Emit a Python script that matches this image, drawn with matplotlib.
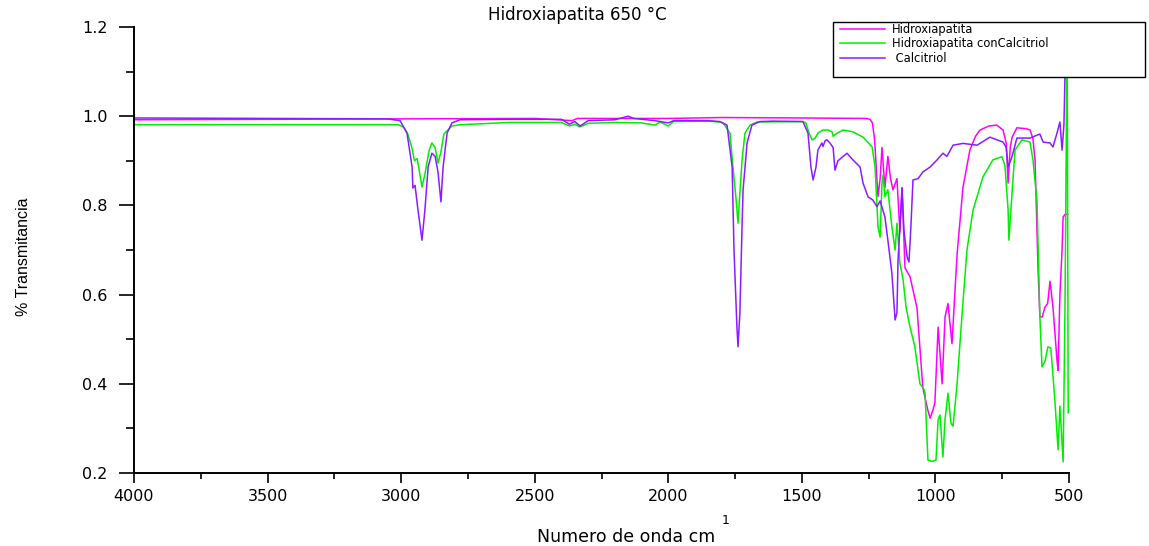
import matplotlib
matplotlib.use("Agg")
import matplotlib.pyplot as plt
from matplotlib.patches import Rectangle

# ---- data (wavenumber cm-1, transmittance) ----
hidroxiapatita = [
    (4000, 0.992), (3500, 0.993), (3000, 0.994), (2500, 0.995), (2360, 0.990),
    (2340, 0.995), (2000, 0.995), (1800, 0.997), (1500, 0.996), (1260, 0.995),
    (1245, 0.993), (1236, 0.985), (1228, 0.950), (1215, 0.820), (1207, 0.860),
    (1200, 0.930), (1189, 0.840), (1178, 0.910), (1168, 0.860), (1159, 0.835),
    (1144, 0.860), (1133, 0.740), (1125, 0.840), (1114, 0.660), (1095, 0.640),
    (1069, 0.570), (1047, 0.390), (1028, 0.340), (1020, 0.323), (1010, 0.340),
    (1002, 0.357), (990, 0.527), (975, 0.400), (964, 0.550), (953, 0.580),
    (938, 0.490), (919, 0.690), (897, 0.840), (871, 0.924), (850, 0.955),
    (833, 0.969), (800, 0.978), (770, 0.980), (747, 0.969), (735, 0.940),
    (728, 0.850), (720, 0.930), (713, 0.953), (695, 0.974), (660, 0.972),
    (646, 0.969), (635, 0.950), (627, 0.900), (616, 0.660), (609, 0.550),
    (600, 0.550), (590, 0.572), (580, 0.580), (571, 0.630), (560, 0.572),
    (545, 0.453), (541, 0.430), (534, 0.600), (526, 0.700), (522, 0.774),
    (515, 0.780), (505, 0.780),
]

hidroxiapatita_calcitriol = [
    (4000, 0.981), (3500, 0.981), (3010, 0.981), (2990, 0.975), (2975, 0.960),
    (2960, 0.930), (2950, 0.900), (2940, 0.905), (2930, 0.870), (2922, 0.841),
    (2911, 0.870), (2895, 0.924), (2885, 0.940), (2873, 0.930), (2862, 0.895),
    (2851, 0.920), (2840, 0.960), (2810, 0.978), (2780, 0.981), (2700, 0.983),
    (2600, 0.986), (2400, 0.986), (2370, 0.978), (2350, 0.982), (2330, 0.976),
    (2300, 0.984), (2200, 0.986), (2100, 0.985), (2050, 0.980), (2030, 0.987),
    (2000, 0.978), (1980, 0.988), (1850, 0.989), (1810, 0.987), (1795, 0.985),
    (1769, 0.962), (1758, 0.886), (1746, 0.812), (1739, 0.760), (1735, 0.800),
    (1724, 0.900), (1713, 0.962), (1694, 0.980), (1668, 0.987), (1500, 0.988),
    (1485, 0.985), (1473, 0.962), (1462, 0.947), (1451, 0.950), (1440, 0.962),
    (1421, 0.969), (1402, 0.969), (1387, 0.965), (1383, 0.955), (1368, 0.962),
    (1346, 0.969), (1309, 0.965), (1271, 0.953), (1237, 0.931), (1226, 0.886),
    (1215, 0.752), (1207, 0.729), (1200, 0.850), (1196, 0.868), (1189, 0.820),
    (1178, 0.835), (1163, 0.752), (1151, 0.700), (1144, 0.760), (1133, 0.671),
    (1121, 0.633), (1110, 0.572), (1095, 0.527), (1077, 0.483), (1058, 0.400),
    (1045, 0.390), (1039, 0.380), (1028, 0.229), (1013, 0.226), (998, 0.229),
    (990, 0.319), (983, 0.330), (972, 0.236), (964, 0.320), (953, 0.379),
    (942, 0.312), (934, 0.305), (919, 0.400), (901, 0.550), (882, 0.700),
    (859, 0.790), (822, 0.864), (785, 0.902), (751, 0.909), (740, 0.890),
    (728, 0.790), (725, 0.722), (713, 0.830), (702, 0.924), (676, 0.947),
    (646, 0.942), (635, 0.902), (620, 0.812), (609, 0.550), (601, 0.438),
    (590, 0.450), (579, 0.483), (568, 0.480), (553, 0.364), (541, 0.252),
    (534, 0.350), (522, 0.225), (515, 0.570), (507, 1.200), (503, 0.335),
]

calcitriol = [
    (4000, 0.996), (3500, 0.995), (3050, 0.994), (3004, 0.990), (2978, 0.962),
    (2959, 0.886), (2956, 0.839), (2948, 0.845), (2937, 0.790), (2922, 0.722),
    (2911, 0.790), (2899, 0.886), (2885, 0.917), (2873, 0.910), (2862, 0.875),
    (2851, 0.808), (2843, 0.886), (2828, 0.962), (2810, 0.985), (2780, 0.992),
    (2600, 0.993), (2400, 0.993), (2370, 0.982), (2350, 0.988), (2330, 0.978),
    (2300, 0.990), (2200, 0.992), (2150, 1.000), (2130, 0.995), (2050, 0.990),
    (2000, 0.985), (1980, 0.990), (1850, 0.990), (1807, 0.988), (1780, 0.980),
    (1761, 0.886), (1754, 0.700), (1743, 0.527), (1739, 0.483), (1732, 0.559),
    (1724, 0.750), (1720, 0.835), (1705, 0.940), (1687, 0.980), (1657, 0.988),
    (1608, 0.989), (1496, 0.988), (1477, 0.962), (1466, 0.886), (1458, 0.857),
    (1447, 0.886), (1440, 0.924), (1425, 0.940), (1421, 0.932), (1413, 0.945),
    (1406, 0.947), (1395, 0.940), (1383, 0.930), (1376, 0.879), (1365, 0.900),
    (1331, 0.917), (1309, 0.902), (1282, 0.886), (1271, 0.850), (1252, 0.819),
    (1234, 0.812), (1219, 0.797), (1207, 0.810), (1189, 0.774), (1178, 0.722),
    (1163, 0.648), (1151, 0.543), (1144, 0.560), (1140, 0.677), (1133, 0.750),
    (1125, 0.839), (1118, 0.745), (1106, 0.684), (1099, 0.673), (1092, 0.750),
    (1084, 0.857), (1065, 0.860), (1047, 0.875), (1020, 0.886), (994, 0.902),
    (972, 0.917), (957, 0.910), (934, 0.935), (897, 0.939), (844, 0.935),
    (796, 0.953), (747, 0.942), (735, 0.930), (728, 0.886), (713, 0.910),
    (695, 0.951), (646, 0.951), (609, 0.960), (597, 0.942), (571, 0.940),
    (560, 0.931), (545, 0.962), (534, 0.987), (526, 0.924), (519, 0.980),
    (511, 1.200), (505, 1.200),
]

series_labels = ["Hidroxiapatita", "Hidroxiapatita conCalcitriol", " Calcitriol"]
series_colors = ["#FF00FF", "#00EE00", "#8A1CFF"]
x_ticks = [4000, 3500, 3000, 2500, 2000, 1500, 1000, 500]
y_ticks = [0.2, 0.4, 0.6, 0.8, 1.0, 1.2]

W, H = 1149, 546
fig = plt.figure(figsize=(W / 100, H / 100), dpi=100)
ax = fig.add_axes([134 / W, 1 - 473 / H, (1069 - 134) / W, (473 - 27) / H])

handles = []
for data, lab, col in zip([hidroxiapatita, hidroxiapatita_calcitriol, calcitriol],
                          series_labels, series_colors):
    xs = [p[0] for p in data]
    ys = [p[1] for p in data]
    h, = ax.plot(xs, ys, color=col, lw=1.1, label=lab)
    handles.append(h)

ax.set_xlim(4000, 500)
ax.set_ylim(0.2, 1.2)
ax.set_xticks(x_ticks)
ax.set_xticks([3750, 3250, 2750, 2250, 1750, 1250, 750], minor=True)
ax.set_yticks(y_ticks)
ax.set_yticks([0.3, 0.5, 0.7, 0.9, 1.1], minor=True)
ax.set_yticklabels(["0.2", "0.4", "0.6", "0.8", "1.0", "1.2"])
ax.set_xticklabels([str(t) for t in x_ticks])

for s in ["top", "right"]:
    ax.spines[s].set_visible(False)
for s in ["left", "bottom"]:
    ax.spines[s].set_linewidth(1.4)
    ax.spines[s].set_color("black")

ax.tick_params(axis="y", which="major", direction="out", length=11, width=1.2,
               pad=8, labelsize=11.5)
ax.tick_params(axis="y", which="minor", direction="out", length=5.5, width=1.2)
ax.tick_params(axis="x", which="major", direction="out", length=7.5, width=1.2,
               pad=4, labelsize=11.5)
ax.tick_params(axis="x", which="minor", direction="out", length=4, width=1.2)
for lbl in ax.get_xticklabels() + ax.get_yticklabels():
    lbl.set_fontfamily("DejaVu Sans")

# title
fig.text(577 / W, 1 - 15 / H, "Hidroxiapatita 650 °C", ha="center", va="center",
         fontsize=12, family="DejaVu Sans")

# axis labels
fig.text(23 / W, 1 - 257 / H, "% Transmitancia", rotation=90, ha="center",
         va="center", fontsize=11.5,
         family=["Liberation Sans Narrow", "Liberation Sans"])
fig.text(626 / W, 1 - 537 / H, "Numero de onda cm", ha="center", va="center",
         fontsize=12.5, family="DejaVu Sans")
fig.text(726 / W, 1 - 521 / H, "1", ha="center", va="center",
         fontsize=9, family="DejaVu Sans")

# legend box
fig.add_artist(Rectangle((833 / W, 1 - 77 / H), (1145 - 833) / W, (77 - 22) / H,
                         transform=fig.transFigure, fill=True, facecolor="white",
                         edgecolor="black", lw=1.0, zorder=5))
leg = fig.legend(handles, series_labels, loc="upper left",
                 bbox_to_anchor=(838 / W, 1 - 21 / H), frameon=False,
                 prop={"family": "DejaVu Sans", "size": 8.3},
                 handlelength=3.9, handletextpad=0.55,
                 labelspacing=0.1, borderpad=0.2, borderaxespad=0)
leg.set_zorder(6)

fig.savefig("out.png", dpi=100)
